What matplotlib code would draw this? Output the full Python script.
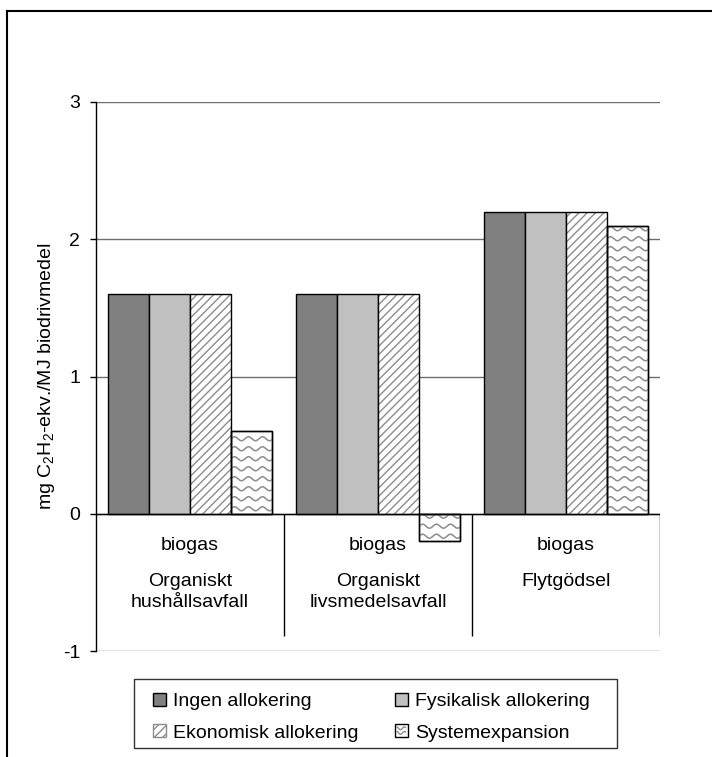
import numpy as np
import matplotlib
matplotlib.use("Agg")
import matplotlib.pyplot as plt
from matplotlib.patches import Patch, Rectangle
from matplotlib.lines import Line2D
from matplotlib.legend_handler import HandlerPatch

plt.rcParams['font.family'] = ['Liberation Sans', 'DejaVu Sans']
plt.rcParams['mathtext.fontset'] = 'custom'
plt.rcParams['mathtext.rm'] = 'Liberation Sans'
plt.rcParams['mathtext.default'] = 'regular'
plt.rcParams['axes.unicode_minus'] = False
plt.rcParams['hatch.linewidth'] = 1.0

# Data
fuels = ['biogas', 'biogas', 'biogas']
feedstocks = ['Organiskt\nhushållsavfall', 'Organiskt\nlivsmedelsavfall', 'Flytgödsel']
series = ['Ingen allokering', 'Fysikalisk allokering',
          'Ekonomisk allokering', 'Systemexpansion']
ingen = [1.6, 1.6, 2.2]
fysikalisk = [1.6, 1.6, 2.2]
ekonomisk = [1.6, 1.6, 2.2]
systemexp = [0.6, -0.2, 2.1]
yticks = [-1, 0, 1, 2, 3]

DPI = 100
W, H = 712, 757
fig = plt.figure(figsize=(W / DPI, H / DPI), dpi=DPI)
fig.patch.set_facecolor('white')
ax = fig.add_axes([96 / W, 1 - 651 / H, 564 / W, 549 / H])

x = np.arange(len(feedstocks))
w = 41 / 188
HATCH_GREY = '#8c8c8c'


def wavy_fill(ax, bar, period=14, amp=2.0, gap=10, color=HATCH_GREY):
    """Fill a bar with horizontal wavy lines (pixel-sized waves)."""
    to_px = ax.transData
    x0, y0 = to_px.transform((bar.get_x(), min(bar.get_y(), bar.get_y() + bar.get_height())))
    x1, y1 = to_px.transform((bar.get_x() + bar.get_width(),
                              max(bar.get_y(), bar.get_y() + bar.get_height())))
    xs = np.linspace(x0 - 2, x1 + 2, 200)
    inv = to_px.inverted()
    yy = y0 + gap / 2
    while yy < y1 + gap:
        ys = yy + amp * np.sin(2 * np.pi * (xs - x0) / period)
        pts = inv.transform(np.column_stack([xs, ys]))
        ln, = ax.plot(pts[:, 0], pts[:, 1], color=color, lw=1.1, zorder=2.5)
        ln.set_clip_path(bar)
        yy += gap


ax.set_xlim(-0.5, 2.5)
ax.set_ylim(-1, 3)

ax.bar(x - 1.5 * w, ingen, w, color='#808080', edgecolor='black', lw=1, zorder=2)
ax.bar(x - 0.5 * w, fysikalisk, w, color='#C0C0C0', edgecolor='black', lw=1, zorder=2)
ax.bar(x + 0.5 * w, ekonomisk, w, color='white', edgecolor=HATCH_GREY, lw=0,
       hatch='////', zorder=2)
ax.bar(x + 0.5 * w, ekonomisk, w, fill=False, edgecolor='black', lw=1, zorder=3)
sys_bars = ax.bar(x + 1.5 * w, systemexp, w, color='white', edgecolor='black',
                  lw=1, zorder=2)
fig.canvas.draw()
for b in sys_bars:
    wavy_fill(ax, b)
ax.bar(x + 1.5 * w, systemexp, w, fill=False, edgecolor='black', lw=1, zorder=3)

# Axes styling
for s in ['top', 'right', 'bottom']:
    ax.spines[s].set_visible(False)
ax.spines['left'].set_linewidth(1)
ax.set_yticks(yticks)
ax.set_yticklabels([str(t) for t in yticks], fontsize=14)
ax.tick_params(axis='y', direction='out', length=4.5, width=1, pad=7)
ax.set_xticks([])
ax.grid(axis='y', color='#6e6e6e', lw=1, zorder=0)
ax.set_axisbelow(True)
ax.axhline(0, color='black', lw=1, zorder=4)

# Category separators and two-level labels
bounds = np.arange(len(feedstocks) + 1) - 0.5
depth = 122 / 137
ax.vlines(bounds[1:], -depth, 0, color='black', lw=1, zorder=4)
for i in x:
    ax.annotate(fuels[i], xy=(i, 0), xytext=(0, -32), textcoords='offset pixels',
                ha='center', va='center', fontsize=14)
    ax.annotate(feedstocks[i], xy=(i, 0), xytext=(0, -59), textcoords='offset pixels',
                ha='center', va='top', fontsize=14, linespacing=1.3)

ax.set_ylabel('mg C$_2$H$_2$-ekv./MJ biodrivmedel', fontsize=14)
ax.yaxis.set_label_coords(-0.07, 0.5)


class HandlerWave(HandlerPatch):
    def create_artists(self, legend, orig_handle, xdescent, ydescent,
                       width, height, fontsize, trans):
        r = Rectangle((-xdescent, -ydescent), width, height, facecolor='white',
                      edgecolor='black', lw=1, transform=trans)
        xs = np.linspace(-xdescent + 1.5, -xdescent + width - 1.5, 30)
        arts = [r]
        for f in (0.35, 0.7):
            ys = -ydescent + f * height + 1.0 * np.sin(2 * np.pi * xs / (width * 0.6))
            arts.append(Line2D(xs, ys, color=HATCH_GREY, lw=1, transform=trans))
        return arts


h_ingen = Patch(facecolor='#808080', edgecolor='black', lw=1)
h_fys = Patch(facecolor='#C0C0C0', edgecolor='black', lw=1)
h_eko = Patch(facecolor='white', edgecolor=HATCH_GREY, hatch='////', lw=1)
h_sys = Patch(facecolor='white', edgecolor='black', lw=1)
handles = [h_ingen, h_eko, h_fys, h_sys]
labels = [series[0], series[2], series[1], series[3]]
leg = fig.legend(handles, labels, ncol=2, loc='upper left',
                 bbox_to_anchor=(153 / W, 1 - 693 / H),
                 borderaxespad=0, borderpad=0, fontsize=14, frameon=False,
                 handlelength=0.66, handleheight=0.66, handletextpad=0.38,
                 labelspacing=0.72, columnspacing=1.85,
                 handler_map={h_sys: HandlerWave()})

# Legend box
fig.add_artist(Rectangle((134 / W, 1 - 748 / H), 483 / W, 69 / H, fill=False,
                         edgecolor='#333333', lw=1, transform=fig.transFigure))

# Outer frame (top and left edges)
fig.add_artist(Line2D([7 / W, 1], [1 - 11 / H, 1 - 11 / H],
                      color='black', lw=1.5, transform=fig.transFigure))
fig.add_artist(Line2D([7 / W, 7 / W], [0, 1 - 11 / H],
                      color='black', lw=1.5, transform=fig.transFigure))

fig.savefig('out.png', dpi=DPI, facecolor='white')
